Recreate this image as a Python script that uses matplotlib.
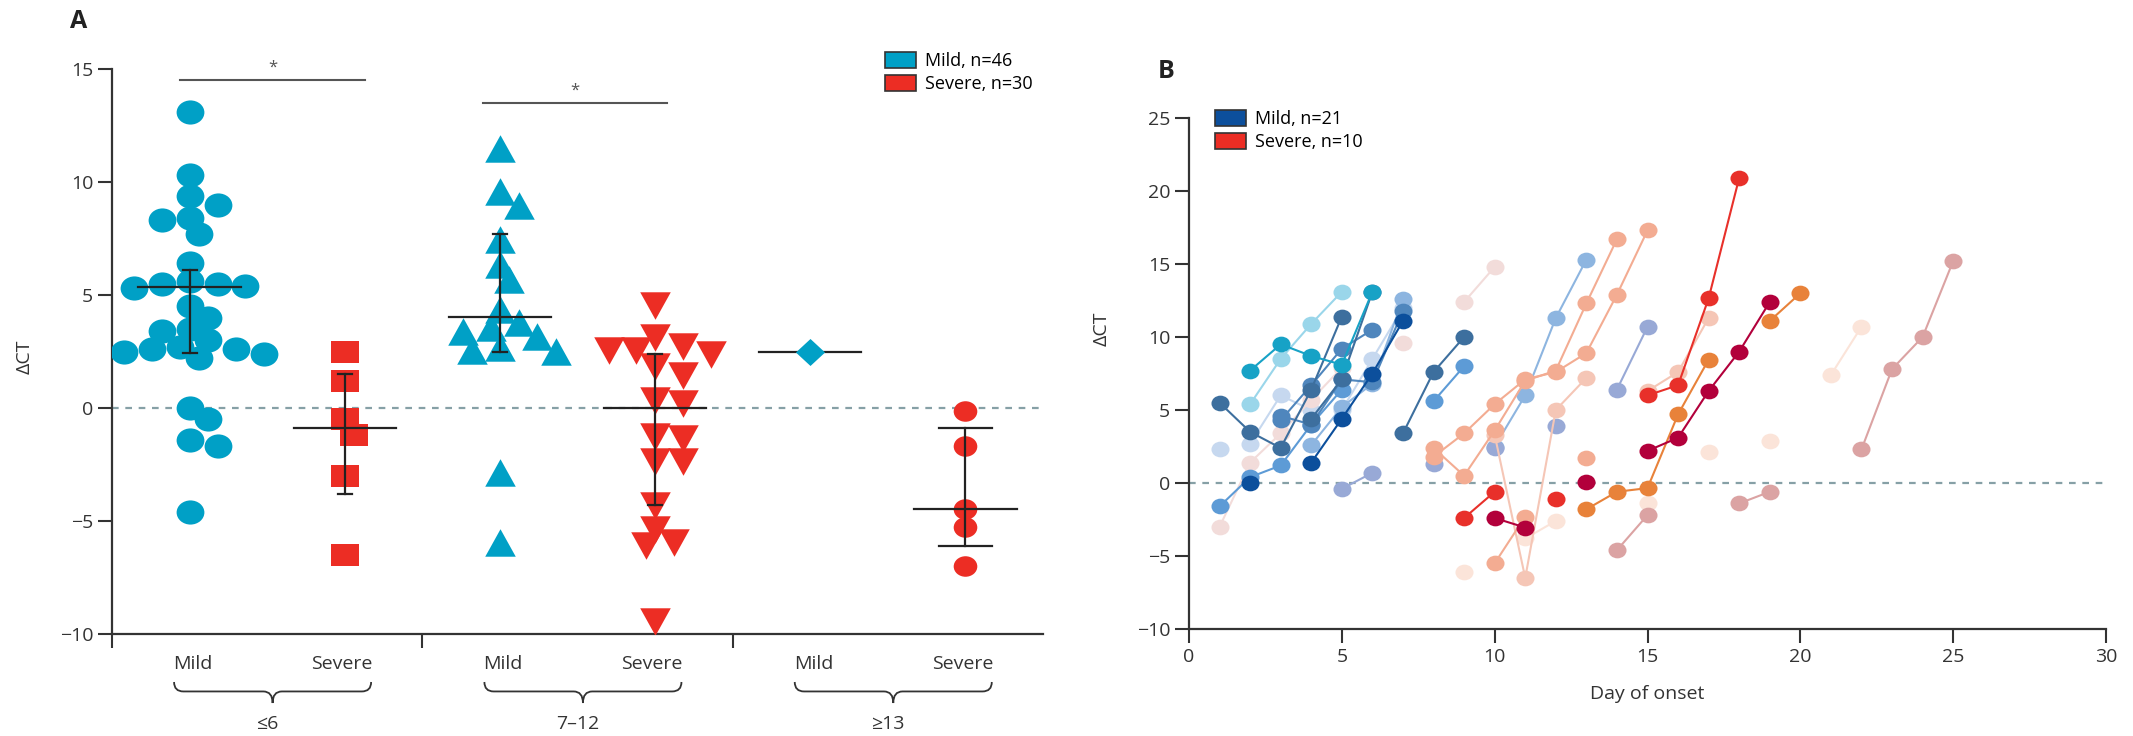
import numpy as np
import matplotlib
matplotlib.use("Agg")
import matplotlib.pyplot as plt
from matplotlib.patches import Patch, PathPatch
from matplotlib.path import Path
from matplotlib.transforms import blended_transform_factory

plt.rcParams["font.family"] = ["Open Sans", "DejaVu Sans"]

# ---- panel A data (ΔCT by days since onset) ----
groups = ["≤6", "7–12", "≥13"]
mild_le6 = [13.1, 10.3, 9.4, 9.0, 8.4, 8.3, 7.7, 6.4, 5.6, 5.5, 5.4, 5.3, 5.5, 4.5,
            4.0, 3.5, 3.4, 3.0, 2.7, 2.6, 2.5, 2.4, 2.2, 2.6, 0.0, -0.5, -1.4, -1.7, -4.6]
severe_le6 = [2.5, 1.2, -0.5, -1.2, -3.0, -6.5]
mild_7_12 = [11.4, 9.5, 8.9, 7.4, 6.3, 5.6, 4.3, 3.7, 3.3, 3.1, 2.5, 2.45, 2.6, 3.5, -2.9, -6.0]
severe_7_12 = [4.6, 3.2, 2.8, 2.6, 2.6, 2.45, 1.9, 1.5, 0.25, 0.4, -1.2, -1.3, -2.3, -2.3,
               -4.25, -5.3, -5.9, -6.0, -9.4]
mild_ge13 = [2.5]
severe_ge13 = [-0.15, -1.7, -4.45, -5.25, -7.0]

# centre line and whiskers (None = no whisker)
centres = [5.35, -0.87, 4.02, 0.0, 2.5, -4.46]
whisk_lo = [2.43, -3.8, 2.49, -4.29, None, -6.12]
whisk_hi = [6.1, 1.49, 7.72, 2.39, None, -0.89]

# ---- panel B data: (colour key, days, ΔCT) per patient ----
mild_series = [
    ("vlight_blue", [1], [2.3]),
    ("vlight_blue", [2, 3, 4], [2.7, 6.0, 5.0]),
    ("vlight_blue", [5, 6, 7], [5.0, 8.5, 12.0]),
    ("pink_vlight", [1, 2, 3, 4, 5], [-3.0, 1.4, 3.4, 5.7, 7.9]),
    ("pink_vlight", [7], [9.6]),
    ("cyan_light", [2, 3, 4, 5], [5.4, 8.5, 10.9, 13.1]),
    ("blue_light", [4, 5, 6, 7], [2.6, 5.2, 6.8, 12.6]),
    ("blue_med", [1, 2, 3, 4, 5], [-1.6, 0.4, 1.2, 4.0, 6.4]),
    ("steel", [3, 4, 5, 6], [4.3, 6.7, 9.2, 10.5]),
    ("steel", [3, 4, 5, 6, 7], [4.6, 4.0, 7.1, 6.9, 11.8]),
    ("steel_dark", [1, 2, 3, 4, 5], [5.5, 3.5, 2.4, 6.4, 11.4]),
    ("steel_dark", [4, 5, 6], [4.4, 7.1, 13.1]),
    ("teal", [2, 3, 4, 5, 6], [7.7, 9.5, 8.7, 8.1, 13.1]),
    ("blue_dark", [2], [0.0]),
    ("blue_dark", [4, 5, 6, 7], [1.4, 4.4, 7.5, 11.1]),
    ("lavender", [5, 6], [-0.4, 0.7]),
    ("steel_dark", [7, 8, 9], [3.4, 7.6, 10.0]),
    ("blue_med", [8, 9], [5.6, 8.0]),
    ("lavender", [8], [1.3]),
    ("blue_light", [10, 11, 12, 13], [2.5, 6.0, 11.3, 15.3]),
    ("lavender", [10], [2.4]),
    ("lavender", [12], [3.9]),
    ("lavender", [14, 15], [6.4, 10.7]),
]
severe_series = [
    ("pink_vlight", [9, 10], [12.4, 14.8]),
    ("peach_vlight", [9], [-6.1]),
    ("peach_vlight", [11, 12], [-3.8, -2.6]),
    ("peach_vlight", [15], [-1.4]),
    ("peach_vlight", [17], [2.1]),
    ("peach_vlight", [19], [2.9]),
    ("peach_vlight", [21, 22], [7.4, 10.7]),
    ("salmon_light", [10, 11, 12, 13], [3.3, -6.5, 5.0, 7.2]),
    ("salmon", [8, 9, 10, 11, 12, 13, 14, 15], [1.8, 3.4, 5.4, 7.1, 7.6, 8.9, 12.9, 17.3]),
    ("salmon", [8, 9, 10, 11, 12, 13, 14], [2.4, 0.5, 3.6, 7.0, 7.7, 12.3, 16.7]),
    ("salmon", [13], [1.7]),
    ("salmon", [10, 11], [-5.5, -2.3]),
    ("salmon_light", [15, 16, 17], [6.3, 7.6, 11.3]),
    ("dusty", [14, 15], [-4.6, -2.2]),
    ("dusty", [18, 19], [-1.4, -0.6]),
    ("dusty", [22, 23, 24, 25], [2.3, 7.8, 10.0, 15.2]),
    ("red", [9, 10], [-2.4, -0.6]),
    ("red", [12], [-1.1]),
    ("crimson", [10, 11], [-2.4, -3.05]),
    ("crimson", [13], [0.05]),
    ("orange", [13, 14, 15, 16, 17], [-1.8, -0.6, -0.35, 4.7, 8.45]),
    ("orange", [19, 20], [11.1, 13.0]),
    ("crimson", [15, 16, 17, 18, 19], [2.2, 3.1, 6.3, 9.0, 12.4]),
    ("red", [15, 16, 17, 18], [6.0, 6.7, 12.65, 20.9]),
]

PALETTE = {
    "steel_dark": "#3d6f9e", "steel": "#4f86bd", "blue_dark": "#0c4f9c",
    "blue_med": "#5d9bd6", "blue_light": "#8db5e0", "vlight_blue": "#c6d8ef",
    "teal": "#17a2c6", "cyan_light": "#9ad6ea", "lavender": "#98a9d6",
    "pink_vlight": "#f2dcda", "red": "#e8302a", "crimson": "#b2003b",
    "orange": "#e8823a", "salmon": "#f3ac92", "salmon_light": "#f5c6b6",
    "peach_vlight": "#fbe4d9", "dusty": "#dba3a3",
}
MILD_A = "#00a0c6"
SEVERE_A = "#ec2d24"
AXC = "#333333"
ZERO = "#86a0a6"

W, H = 2133, 736


def fx(px):
    return px / W


def fy(py):
    return 1 - py / H


def squat(path, ratio):
    """Marker path squashed vertically: the printed figure's symbols are wider than tall."""
    return Path(path.vertices * np.array([1.0, 1.0 / ratio]), path.codes)


ELLIPSE = squat(Path.unit_circle(), 1.15)
RECT = squat(Path([(-1, -1), (1, -1), (1, 1), (-1, 1), (-1, -1)], closed=True), 1.22)
TRI_UP = squat(Path([(-1, -0.8), (1, -0.8), (0, 1.0), (-1, -0.8)], closed=True), 1.0)
TRI_DN = squat(Path([(-1, 0.8), (1, 0.8), (0, -1.0), (-1, 0.8)], closed=True), 1.0)
DIAMOND = squat(Path([(0, -1), (1, 0), (0, 1), (-1, 0), (0, -1)], closed=True), 1.08)


def swarm(vals, step=0.06, wx=0.15, wy=0.75):
    """GraphPad-like column scatter: nudge points sideways until they stop colliding."""
    vals = np.asarray(vals, float)
    offs = np.zeros(len(vals))
    placed = []
    for i in np.argsort(-vals):
        v = vals[i]
        for k in range(40):
            cands = [0.0] if k == 0 else [k * step, -k * step]
            ok = None
            for c in cands:
                if all(((c - px) / wx) ** 2 + ((v - py) / wy) ** 2 >= 1 for px, py in placed):
                    ok = c
                    break
            if ok is not None:
                offs[i] = ok
                placed.append((ok, v))
                break
    return offs


def brace(ax, x0, x1, ytop, ybot):
    tr = blended_transform_factory(ax.transData, ax.figure.transFigure)
    xc = (x0 + x1) / 2
    ym = (ytop + ybot) / 2 + (ytop - ybot) * 0.05
    q = 0.06
    verts = [(x0, ytop), (x0, ym), (x0 + q, ym), (xc - q, ym), (xc, ym), (xc, ybot),
             (xc, ym), (xc + q, ym), (x1 - q, ym), (x1, ym), (x1, ytop)]
    codes = [Path.MOVETO, Path.CURVE3, Path.CURVE3, Path.LINETO, Path.CURVE3, Path.CURVE3,
             Path.CURVE3, Path.CURVE3, Path.LINETO, Path.CURVE3, Path.CURVE3]
    ax.add_patch(PathPatch(Path(verts, codes), transform=tr, fc="none", ec=AXC,
                           lw=1.3, clip_on=False))


def style_axes(ax):
    for s in ("top", "right"):
        ax.spines[s].set_visible(False)
    for s in ("left", "bottom"):
        ax.spines[s].set_color(AXC)
        ax.spines[s].set_linewidth(1.6)
    ax.tick_params(axis="both", direction="out", length=10, width=1.5, color=AXC,
                   labelsize=14, labelcolor=AXC)


fig = plt.figure(figsize=(W / 100, H / 100), dpi=100)

# ================= panel A =================
axA = fig.add_axes([fx(112), fy(634), fx(1043 - 112), (634 - 69) / H])
style_axes(axA)
axA.set_xlim(-0.5, 5.5)
axA.set_ylim(-10, 15)
axA.set_yticks(range(-10, 16, 5))
axA.set_xticks([-0.5, 1.5, 3.5])
axA.set_xticklabels([])
axA.axhline(0, color=ZERO, lw=1.6, ls=(0, (3, 3)), zorder=1)

columns = [
    (mild_le6, ELLIPSE, MILD_A, 20), (severe_le6, RECT, SEVERE_A, 20),
    (mild_7_12, TRI_UP, MILD_A, 22), (severe_7_12, TRI_DN, SEVERE_A, 22),
    (mild_ge13, DIAMOND, MILD_A, 21), (severe_ge13, ELLIPSE, SEVERE_A, 17),
]
for pos, (vals, mk, col, ms) in enumerate(columns):
    offs = swarm(vals)
    axA.plot(pos + offs, vals, ls="none", marker=mk, ms=ms, color=col, mec=col, mew=0,
             zorder=3)
    c = centres[pos]
    axA.plot([pos - 0.33, pos + 0.33], [c, c], color="#222222", lw=1.6,
             zorder=2 if whisk_lo[pos] is None else 4)
    if whisk_lo[pos] is not None:
        cap = 0.17 if pos == 5 else 0.045
        axA.plot([pos, pos], [whisk_lo[pos], whisk_hi[pos]], color="#222222", lw=1.6, zorder=4)
        for yv in (whisk_lo[pos], whisk_hi[pos]):
            axA.plot([pos - cap, pos + cap], [yv, yv], color="#222222", lw=1.6, zorder=4)

# significance bars
for (x0, x1, yb) in [(-0.06, 1.13, 14.5), (1.89, 3.08, 13.5)]:
    axA.plot([x0, x1], [yb, yb], color="#555555", lw=1.5, clip_on=False)
    axA.text((x0 + x1) / 2, yb + 0.55, "*", ha="center", va="center", fontsize=12,
             color="#555555")

trA = blended_transform_factory(axA.transData, fig.transFigure)
for g, name in enumerate(groups):
    base = 2 * g
    axA.text(base + 0.02, fy(664), "Mild", transform=trA, ha="center", va="center",
             fontsize=14, color=AXC)
    axA.text(base + 0.98, fy(664), "Severe", transform=trA, ha="center", va="center",
             fontsize=14, color=AXC)
    brace(axA, base - 0.1, base + 1.17, fy(682), fy(703))
    axA.text(base + 0.5, fy(724), name, transform=trA, ha="center", va="center",
             fontsize=14, color=AXC)

fig.text(fx(25), fy(357), "ΔCT", rotation=90, ha="center", va="center", fontsize=14,
         color=AXC)
fig.text(fx(79), fy(22), "A", ha="center", va="center", fontsize=18, fontweight="bold",
         color="#222222")
fig.legend(handles=[Patch(fc=MILD_A, ec=AXC, lw=1.2), Patch(fc=SEVERE_A, ec=AXC, lw=1.2)],
           labels=["Mild, n=46", "Severe, n=30"], loc="upper left",
           bbox_to_anchor=(fx(885), fy(52)), frameon=False, fontsize=13,
           handlelength=1.7, handleheight=1.0, handletextpad=0.5, labelspacing=0.25,
           borderpad=0, borderaxespad=0)

# ================= panel B =================
axB = fig.add_axes([fx(1189), fy(629), fx(2106 - 1189), (629 - 118) / H])
style_axes(axB)
axB.set_xlim(0, 30)
axB.set_ylim(-10, 25)
axB.set_xticks(range(0, 31, 5))
axB.set_yticks(range(-10, 26, 5))
axB.axhline(0, color=ZERO, lw=1.6, ls=(0, (3, 3)), zorder=1)

for key, days, vals in mild_series + severe_series:
    col = PALETTE[key]
    axB.plot(days, vals, "-", color=col, lw=1.5, zorder=2, clip_on=False)
    axB.plot(days, vals, ls="none", marker=ELLIPSE, ms=13, color=col, mew=0, zorder=2,
             clip_on=False)

axB.set_xlabel("Day of onset", fontsize=14, color=AXC, labelpad=14)
fig.text(fx(1102), fy(329), "ΔCT", rotation=90, ha="center", va="center", fontsize=14,
         color=AXC)
fig.text(fx(1166), fy(72), "B", ha="center", va="center", fontsize=18, fontweight="bold",
         color="#222222")
fig.legend(handles=[Patch(fc="#0c4f9c", ec=AXC, lw=1.2), Patch(fc=SEVERE_A, ec=AXC, lw=1.2)],
           labels=["Mild, n=21", "Severe, n=10"], loc="upper left",
           bbox_to_anchor=(fx(1215), fy(110)), frameon=False, fontsize=13,
           handlelength=1.7, handleheight=1.0, handletextpad=0.5, labelspacing=0.25,
           borderpad=0, borderaxespad=0)

fig.savefig("out.png", dpi=100)
